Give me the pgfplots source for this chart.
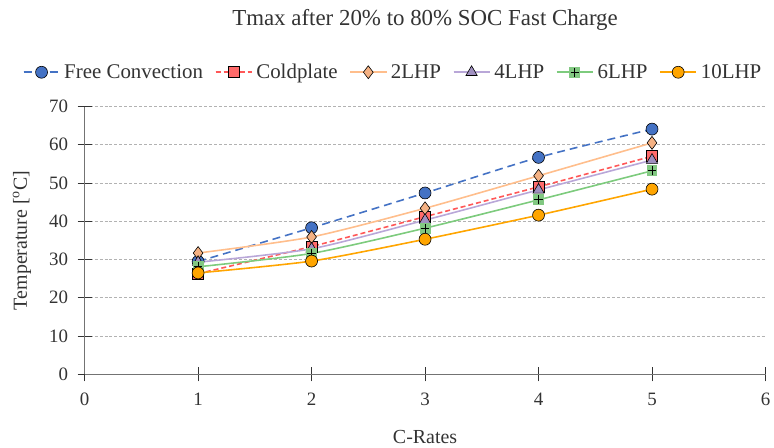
\documentclass[border=0pt]{standalone}
\usepackage{pgfplots}
\pgfplotsset{compat=1.18}
\usepackage{fontspec}
\setmainfont{Liberation Serif}
\definecolor{cblue}{HTML}{4472C4}
\definecolor{cred}{HTML}{FF5757}
\definecolor{credf}{HTML}{FF6B6B}
\definecolor{corl}{HTML}{FFBE8C}
\definecolor{corlf}{HTML}{F4B183}
\definecolor{cpur}{HTML}{B9A7D8}
\definecolor{cpurf}{HTML}{A090C0}
\definecolor{cgrn}{HTML}{7DCB7D}
\definecolor{cgrnf}{HTML}{82C882}
\definecolor{corg}{HTML}{FFA500}
\pgfdeclareplotmark{sqplus}{%
  \pgfpathrectangle{\pgfpoint{-\pgfplotmarksize}{-\pgfplotmarksize}}{\pgfpoint{2\pgfplotmarksize}{2\pgfplotmarksize}}%
  \pgfusepathqfill
  \pgfpathmoveto{\pgfpoint{-0.8\pgfplotmarksize}{0pt}}\pgfpathlineto{\pgfpoint{0.8\pgfplotmarksize}{0pt}}%
  \pgfpathmoveto{\pgfpoint{0pt}{-0.8\pgfplotmarksize}}\pgfpathlineto{\pgfpoint{0pt}{0.8\pgfplotmarksize}}%
  \pgfusepathqstroke
}
\begin{document}
\begin{tikzpicture}
\begin{axis}[
  width=684pt, height=269pt, scale only axis, clip=false,
  xmin=0, xmax=6, ymin=0, ymax=70,
  xtick={0,1,2,3,4,5,6}, ytick={0,10,...,70},
  ymajorgrids, grid style={densely dashed, gray!60, line width=0.8pt},
  axis line style={gray!90!black, line width=1.2pt},
  axis x line*=bottom, axis y line*=left,
  tick style={black!80, line width=0.7pt},
  tick align=center, major tick length=14pt,
  ticklabel style={font=\fontsize{19}{22}\selectfont, text=black!80},
  xticklabel style={yshift=-8pt},
  yticklabel style={xshift=-6pt},
  /pgf/number format/assume math mode=true,
  xlabel={C-Rates}, ylabel={Temperature [\textsuperscript{o}C]},
  label style={font=\fontsize{20}{23}\selectfont, text=black!80},
  xlabel style={at={(axis description cs:0.5,-0.235)}, anchor=center},
  ylabel style={at={(axis description cs:-0.092,0.5)}, anchor=center},
  title={Tmax after 20\% to 80\% SOC Fast Charge},
  title style={font=\fontsize{23}{27}\selectfont, text=black!80, at={(axis description cs:0.5,1.30)}, anchor=center},
  legend columns=6,
  legend style={at={(0.453,1.128)}, anchor=center, draw=none, fill=none,
    font=\fontsize{21}{24}\selectfont, text=black!80, inner sep=0pt,
    /tikz/every odd column/.append style={column sep=2pt},
    /tikz/every even column/.append style={column sep=10pt}},
  legend image code/.code={\draw[#1] (0pt,0pt) -- (36pt,0pt); \draw[#1,mark repeat=2,mark phase=2] plot coordinates {(0pt,0pt) (18pt,0pt) (36pt,0pt)};},
  every axis plot/.append style={line width=1.6pt, smooth, tension=0.4},
]
\path (rel axis cs:-0.12427,-0.2565) rectangle (rel axis cs:1.0125,1.3978);
\addplot[cblue, dash pattern=on 8pt off 5pt, mark=*, mark size=6pt, mark options={solid, fill=cblue, draw=black, line width=0.6pt}]
  coordinates {(1,29.5) (2,38.3) (3,47.4) (4,56.7) (5,64.1)};
\addlegendentry{Free Convection}
\addplot[cred, dash pattern=on 5pt off 3pt, mark=square*, mark size=5.5pt, mark options={solid, fill=credf, draw=black, line width=0.6pt}]
  coordinates {(1,26.3) (2,33.4) (3,41.2) (4,49.0) (5,57.0)};
\addlegendentry{Coldplate}
\addplot[corl, mark=diamond*, mark size=6.5pt, mark options={solid, fill=corlf, draw=black, line width=0.6pt}]
  coordinates {(1,31.7) (2,35.9) (3,43.4) (4,51.9) (5,60.5)};
\addlegendentry{2LHP}
\addplot[cpur, mark=triangle*, mark size=6.5pt, mark options={solid, fill=cpurf, draw=black, line width=0.6pt}]
  coordinates {(1,29.3) (2,32.8) (3,40.3) (4,48.2) (5,56.0)};
\addlegendentry{4LHP}
\addplot[cgrn, mark=sqplus, mark size=5.5pt, mark options={solid, fill=cgrnf, draw=black, line width=0.8pt}]
  coordinates {(1,28.1) (2,31.6) (3,38.2) (4,45.6) (5,53.2)};
\addlegendentry{6LHP}
\addplot[corg, mark=*, mark size=6pt, mark options={solid, fill=corg, draw=black, line width=0.6pt}]
  coordinates {(1,26.5) (2,29.6) (3,35.3) (4,41.6) (5,48.4)};
\addlegendentry{10LHP}
\end{axis}
\end{tikzpicture}
\end{document}
